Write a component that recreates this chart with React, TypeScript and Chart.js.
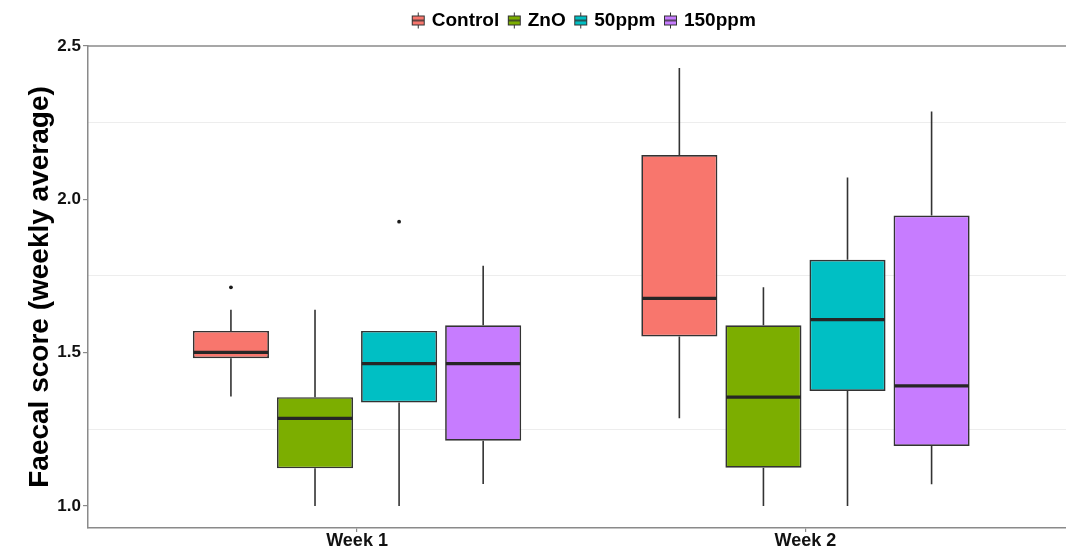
import React, { useEffect, useRef } from 'react';
import { Chart, registerables } from 'chart.js';

Chart.register(...registerables);

// ---- Data ----
const categories = ['Week 1', 'Week 2'];
const groups = ['Control', 'ZnO', '50ppm', '150ppm'];
const groupColors = ['#F8766D', '#7CAE00', '#00BFC4', '#C77CFF'];

// five-number summaries per week (Week 1, Week 2)
const controlLow = [1.357, 1.286];
const controlQ1 = [1.482, 1.553];
const controlMedian = [1.501, 1.677];
const controlQ3 = [1.571, 2.144];
const controlHigh = [1.640, 2.428];
const controlOutliers = [[1.713], []];

const znoLow = [1.0, 1.0];
const znoQ1 = [1.123, 1.125];
const znoMedian = [1.286, 1.355];
const znoQ3 = [1.355, 1.589];
const znoHigh = [1.640, 1.713];
const znoOutliers = [[], []];

const ppm50Low = [1.0, 1.0];
const ppm50Q1 = [1.338, 1.375];
const ppm50Median = [1.464, 1.608];
const ppm50Q3 = [1.571, 1.803];
const ppm50High = [1.571, 2.071];
const ppm50Outliers = [[1.927], []];

const ppm150Low = [1.072, 1.071];
const ppm150Q1 = [1.213, 1.196];
const ppm150Median = [1.464, 1.392];
const ppm150Q3 = [1.589, 1.947];
const ppm150High = [1.783, 2.286];
const ppm150Outliers = [[], []];

const yTicks = [1.0, 1.5, 2.0, 2.5];
const yMinorGrid = [1.25, 1.75, 2.25];
const yMin = 0.9286;
const yMax = 2.4995;

const seriesLow = [controlLow, znoLow, ppm50Low, ppm150Low];
const seriesQ1 = [controlQ1, znoQ1, ppm50Q1, ppm150Q1];
const seriesMedian = [controlMedian, znoMedian, ppm50Median, ppm150Median];
const seriesQ3 = [controlQ3, znoQ3, ppm50Q3, ppm150Q3];
const seriesHigh = [controlHigh, znoHigh, ppm50High, ppm150High];
const seriesOutliers = [controlOutliers, znoOutliers, ppm50Outliers, ppm150Outliers];

const FONT = "'Liberation Sans', Arial, sans-serif";
const LINE = '#333333';
const AXIS = '#8a8a8a';

function makeIcon(color: string) {
  const c = document.createElement('canvas');
  c.width = 15;
  c.height = 18;
  const ctx = c.getContext('2d')!;
  ctx.strokeStyle = LINE;
  ctx.lineWidth = 1;
  ctx.beginPath();
  ctx.moveTo(7.5, 1);
  ctx.lineTo(7.5, 17);
  ctx.stroke();
  ctx.fillStyle = color;
  ctx.fillRect(1.5, 4.5, 12, 9);
  ctx.strokeRect(1.5, 4.5, 12, 9);
  ctx.lineWidth = 1.5;
  ctx.beginPath();
  ctx.moveTo(1.5, 9);
  ctx.lineTo(13.5, 9);
  ctx.stroke();
  return c;
}

const boxExtras = {
  id: 'boxExtras',
  beforeDatasetsDraw(chart: any) {
    const ctx = chart.ctx;
    const y = chart.scales.y;
    ctx.save();
    ctx.strokeStyle = LINE;
    ctx.lineWidth = 1.6;
    groups.forEach((_, d) => {
      const meta = chart.getDatasetMeta(d);
      meta.data.forEach((el: any, j: number) => {
        const x = el.x;
        ctx.beginPath();
        ctx.moveTo(x, y.getPixelForValue(seriesQ3[d][j]));
        ctx.lineTo(x, y.getPixelForValue(seriesHigh[d][j]));
        ctx.moveTo(x, y.getPixelForValue(seriesQ1[d][j]));
        ctx.lineTo(x, y.getPixelForValue(seriesLow[d][j]));
        ctx.stroke();
      });
    });
    ctx.restore();
  },
  afterDatasetsDraw(chart: any) {
    const ctx = chart.ctx;
    const y = chart.scales.y;
    ctx.save();
    groups.forEach((_, d) => {
      const meta = chart.getDatasetMeta(d);
      meta.data.forEach((el: any, j: number) => {
        const half = el.width / 2;
        const py = y.getPixelForValue(seriesMedian[d][j]);
        ctx.strokeStyle = '#262626';
        ctx.lineWidth = 3.2;
        ctx.beginPath();
        ctx.moveTo(el.x - half + 0.8, py);
        ctx.lineTo(el.x + half - 0.8, py);
        ctx.stroke();
        ctx.fillStyle = '#1a1a1a';
        seriesOutliers[d][j].forEach((v: number) => {
          ctx.beginPath();
          ctx.arc(el.x, y.getPixelForValue(v), 1.9, 0, Math.PI * 2);
          ctx.fill();
        });
      });
    });
    // top frame line
    const a = chart.chartArea;
    ctx.strokeStyle = AXIS;
    ctx.lineWidth = 1.5;
    ctx.beginPath();
    ctx.moveTo(a.left, a.top);
    ctx.lineTo(a.right, a.top);
    ctx.stroke();
    ctx.restore();
  },
};

const legendTweak = {
  id: 'legendTweak',
  beforeInit(chart: any) {
    const orig = chart.legend.fit;
    chart.legend.fit = function () {
      orig.call(this);
      this.height += 6;
    };
  },
  afterLayout(chart: any) {
    // centre the legend over the plotting panel (as ggplot does)
    const lg = chart.legend;
    const a = chart.chartArea;
    const panelCentre = a.left + (a.right - a.left + 16) / 2;
    const dx = panelCentre - (lg.left + lg.right) / 2;
    lg.left += dx;
    lg.right += dx;
  },
};

export default function App() {
  const ref = useRef<HTMLCanvasElement | null>(null);

  useEffect(() => {
    document.body.style.margin = '0';
    if (!ref.current) return;
    const icons = groupColors.map(makeIcon);

    const datasets = groups.map((g, d) => ({
      label: g,
      data: categories.map((_, j) => ({ x: j + 1, y: [seriesQ1[d][j], seriesQ3[d][j]] })),
      backgroundColor: groupColors[d],
      borderColor: LINE,
      borderWidth: 1.7,
      borderSkipped: false,
      categoryPercentage: 0.75,
      barPercentage: 0.905,
    }));

    const chart = new Chart(ref.current, {
      type: 'bar',
      data: { datasets } as any,
      plugins: [boxExtras, legendTweak],
      options: {
        animation: false,
        responsive: true,
        maintainAspectRatio: false,
        layout: { padding: { top: 0, left: 0, right: 0, bottom: 1 } },
        plugins: {
          tooltip: { enabled: false },
          legend: {
            position: 'top',
            onClick: () => {},
            labels: {
              usePointStyle: true,
              pointStyleWidth: 8,
              padding: 11,
              color: '#000',
              font: { family: FONT, size: 19, weight: 'bold' },
              generateLabels: () =>
                groups.map((g, d) => ({
                  text: g,
                  pointStyle: icons[d],
                  fillStyle: groupColors[d],
                  strokeStyle: LINE,
                  lineWidth: 0,
                  hidden: false,
                  datasetIndex: d,
                  fontColor: '#000',
                })) as any,
            },
          },
        },
        scales: {
          x: {
            type: 'linear',
            offset: false,
            min: 0.4,
            max: 2.581,
            afterBuildTicks: (s: any) => {
              s.ticks = categories.map((_, j) => ({ value: j + 1 }));
            },
            afterFit: (s: any) => {
              s.height = 22;
            },
            ticks: {
              autoSkip: false,
              maxRotation: 0,
              padding: 0,
              color: '#111',
              font: { family: FONT, size: 18, weight: 'bold', lineHeight: 1 },
              callback: (v: any) => categories[Math.round(v) - 1] ?? '',
            },
            grid: { offset: false, drawOnChartArea: false, tickLength: 4, color: AXIS, lineWidth: 1.2 },
            border: { display: true, color: AXIS, width: 1.5 },
          },
          y: {
            type: 'linear',
            position: 'left',
            min: yMin,
            max: yMax,
            afterBuildTicks: (s: any) => {
              s.ticks = yTicks.map((v) => ({ value: v }));
            },
            afterFit: (s: any) => {
              s.width = 88;
            },
            ticks: {
              padding: 2,
              color: '#111',
              font: { family: FONT, size: 17, weight: 'bold' },
              callback: (v: any) => Number(v).toFixed(1),
            },
            grid: { drawOnChartArea: false, tickLength: 5, color: AXIS, lineWidth: 1.2 },
            border: { display: true, color: AXIS, width: 1.5 },
            title: {
              display: true,
              text: 'Faecal score (weekly average)',
              color: '#000',
              font: { family: FONT, size: 28, weight: 'bold' },
              padding: { top: 23, bottom: 0 },
            },
          },
          yGrid: {
            type: 'linear',
            position: 'right',
            min: yMin,
            max: yMax,
            afterBuildTicks: (s: any) => {
              s.ticks = yMinorGrid.map((v) => ({ value: v }));
            },
            afterFit: (s: any) => {
              s.width = 0;
            },
            ticks: { display: false },
            grid: { drawTicks: false, color: '#ededed', lineWidth: 1 },
            border: { display: false },
          },
        },
      } as any,
    });
    return () => chart.destroy();
  }, []);

  return (
    <div style={{ width: 1066, height: 551, position: 'relative' }}>
      <canvas ref={ref} />
    </div>
  );
}
